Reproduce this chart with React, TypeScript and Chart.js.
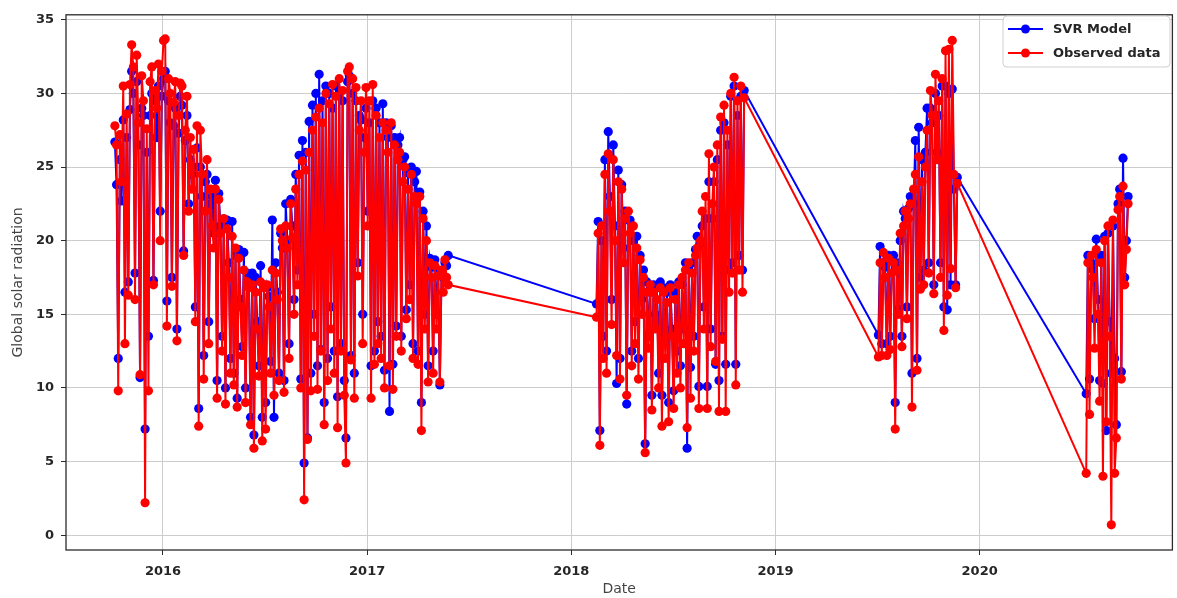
import React, { useEffect, useRef } from "react";
import { Chart, registerables } from "chart.js";

Chart.register(...registerables);

// ---- data ----
const stepDays = 3;

const seg1Start = "2015-10-07";
const seg1Observed = [
  27.8, 26.5, 9.8, 27.2, 24.0, 30.5, 13.0, 28.6, 16.3, 30.6,
  33.3, 31.8, 16.0, 32.6, 28.0, 10.9, 31.2, 29.5, 2.2, 27.6,
  9.8, 30.8, 31.8, 17.0, 30.2, 29.0, 32.0, 20.0, 31.5, 33.6,
  33.7, 14.2, 31.0, 30.0, 16.9, 29.4, 30.8, 13.2, 28.5, 30.7,
  30.5, 19.0, 27.5, 29.8, 22.0, 27.0, 23.5, 26.2, 14.5, 27.8,
  7.4, 27.5, 24.5, 10.6, 22.0, 25.5, 13.0, 23.5, 21.0, 19.5,
  23.5, 9.3, 22.8, 20.5, 12.5, 21.5, 8.9, 20.8, 17.5, 11.0,
  20.3, 10.2, 19.5, 8.7, 18.8, 15.5, 12.2, 18.0, 9.0, 17.2,
  16.8, 7.5, 17.0, 5.9, 16.5, 14.0, 10.8, 17.2, 6.4, 16.8,
  7.2, 17.0, 15.5, 11.0, 18.0, 9.5, 17.8, 16.0, 10.5, 20.8,
  20.0, 9.7, 21.0, 19.5, 12.0, 22.5, 20.2, 15.0, 23.5, 17.0,
  24.5, 10.0, 25.4, 2.4, 24.8, 6.5, 26.0, 9.8, 27.5, 13.5,
  28.4, 9.9, 29.0, 12.5, 28.0, 7.5, 30.0, 10.5, 29.3, 14.0,
  30.6, 11.0, 29.8, 7.3, 31.0, 12.5, 30.2, 9.5, 4.9, 31.5,
  31.8, 11.9, 31.0, 9.3, 30.4, 17.6, 27.5, 29.5, 13.0, 26.0,
  30.4, 21.0, 29.5, 9.3, 30.6, 11.6, 28.5, 13.0, 27.0, 12.0,
  28.0, 10.0, 27.5, 26.0, 11.5, 28.0, 9.9, 26.5, 13.5, 25.5,
  26.0, 12.5, 24.0, 25.0, 14.7, 23.5, 16.0, 24.5, 12.0, 23.0,
  22.5, 11.6, 23.0, 7.1, 21.5, 14.0, 20.0, 10.4, 18.5, 17.5,
  11.0, 18.3, 14.0, 17.6, 10.4, 18.0, 16.5, 18.7, 17.5, 17.0,
];
const seg1Model = [
  26.7, 23.8, 12.0, 25.5, 22.7, 28.2, 16.5, 27.0, 17.2, 28.9,
  31.5, 30.0, 17.8, 30.8, 26.5, 10.7, 29.0, 28.5, 7.2, 26.0,
  13.5, 28.5, 30.0, 17.3, 29.5, 27.0, 30.5, 22.0, 29.8, 31.0,
  31.5, 15.9, 29.5, 28.0, 17.5, 27.8, 29.0, 14.0, 27.3, 29.8,
  29.2, 19.3, 26.8, 28.5, 22.5, 25.5, 24.5, 25.0, 15.5, 26.3,
  8.6, 25.0, 23.0, 12.2, 24.0, 24.5, 14.5, 22.5, 23.0, 20.5,
  24.1, 10.5, 23.2, 21.0, 13.5, 21.0, 10.0, 21.4, 18.5, 12.0,
  21.3, 11.0, 19.0, 9.3, 19.4, 16.0, 12.8, 19.2, 10.0, 17.8,
  17.3, 8.0, 17.8, 6.8, 17.5, 14.5, 11.5, 18.3, 8.0, 17.0,
  9.0, 16.8, 16.2, 11.8, 21.4, 8.0, 18.5, 16.5, 11.0, 20.5,
  19.5, 10.5, 22.5, 20.0, 13.0, 22.8, 21.0, 16.0, 24.5, 18.0,
  25.8, 10.6, 26.8, 4.9, 26.0, 6.6, 28.1, 11.0, 29.2, 15.0,
  30.0, 11.5, 31.3, 12.6, 29.5, 9.0, 30.5, 12.0, 30.0, 15.5,
  29.0, 12.5, 30.5, 9.4, 30.0, 13.0, 29.5, 10.5, 6.6, 30.8,
  31.2, 12.2, 30.0, 11.0, 29.5, 18.5, 28.5, 28.2, 15.0, 27.0,
  29.0, 22.0, 28.0, 11.5, 29.5, 12.5, 29.0, 14.5, 28.0, 13.5,
  29.3, 11.2, 28.0, 27.0, 8.4, 27.8, 11.6, 27.0, 14.2, 26.5,
  27.0, 13.5, 25.5, 25.7, 15.3, 24.6, 17.0, 25.0, 13.0, 24.0,
  24.7, 12.5, 23.3, 9.0, 22.0, 15.0, 21.0, 11.5, 18.8, 18.2,
  12.5, 18.7, 15.0, 18.0, 10.2, 17.8, 17.5, 18.5, 18.3, 19.0,
];

const seg2Start = "2018-02-15";
const seg2Observed = [
  14.8, 20.5, 6.1, 21.0, 12.0, 24.5, 11.0, 25.9, 22.0, 14.3,
  25.5, 20.0, 12.2, 24.0, 10.6, 23.5, 18.5, 21.5, 9.5, 22.0,
  20.5, 11.5, 21.0, 13.0, 19.5, 10.6, 18.7, 15.0, 17.5, 5.6,
  16.5, 12.7, 17.0, 8.5, 16.5, 14.0, 16.0, 10.0, 16.8, 7.4,
  16.5, 12.0, 15.8, 7.7, 16.8, 13.5, 8.6, 16.0, 11.0, 17.0,
  10.0, 17.5, 13.0, 18.0, 7.3, 18.5, 9.3, 17.8, 12.5, 19.0,
  19.5, 8.6, 20.0, 22.0, 14.0, 23.0, 8.6, 25.9, 12.8, 22.5,
  25.0, 11.8, 26.5, 8.4, 28.4, 13.3, 29.2, 8.4, 27.5, 16.5,
  30.0, 17.8, 31.1, 10.2, 29.5, 18.0, 30.5, 16.5, 29.7,
];
const seg2Model = [
  15.7, 21.3, 7.1, 20.0, 13.5, 25.5, 12.5, 27.4, 23.0, 16.0,
  26.5, 21.0, 10.3, 24.8, 12.0, 23.8, 19.5, 22.0, 8.9, 21.4,
  21.4, 12.5, 20.0, 14.5, 20.3, 12.0, 19.0, 16.0, 18.0, 6.2,
  17.2, 13.5, 16.5, 9.5, 17.0, 15.0, 16.8, 11.0, 17.2, 9.5,
  16.8, 13.5, 16.5, 9.0, 17.0, 14.0, 9.8, 16.5, 12.5, 17.2,
  11.5, 17.0, 14.0, 18.5, 5.9, 18.0, 11.4, 18.5, 13.5, 19.4,
  20.3, 10.1, 19.8, 21.0, 15.5, 21.5, 10.1, 24.0, 14.0, 21.5,
  24.0, 11.6, 25.5, 10.5, 27.5, 13.5, 28.0, 11.6, 26.5, 18.0,
  29.8, 18.5, 30.5, 11.6, 28.5, 19.0, 29.8, 18.0, 30.2,
];

const seg3Start = "2019-07-04";
const seg3Observed = [
  12.1, 18.5, 12.2, 19.2, 17.5, 12.2, 18.8, 12.6, 17.8, 18.5,
  7.2, 18.0, 15.0, 20.5, 12.8, 21.0, 22.0, 14.7, 21.5, 22.5,
  8.7, 23.5, 24.5, 11.2, 25.7, 16.7, 24.0, 17.0, 25.0, 27.5,
  17.8, 30.2, 28.5, 16.4, 31.3, 25.5, 29.5, 17.5, 31.0, 13.9,
  32.9, 16.3, 33.0, 18.1, 33.6, 24.5, 16.8, 23.9,
];
const seg3Model = [
  13.6, 19.6, 13.0, 18.5, 18.2, 13.0, 19.0, 13.5, 18.8, 19.0,
  9.0, 18.5, 15.3, 20.0, 13.5, 22.0, 21.5, 15.5, 22.2, 23.0,
  11.0, 22.5, 26.8, 12.0, 27.7, 17.5, 25.5, 18.0, 26.0, 29.0,
  18.5, 29.0, 28.0, 17.0, 30.0, 26.0, 28.5, 18.5, 30.5, 15.5,
  30.5, 15.3, 30.0, 17.0, 30.3, 23.5, 17.0, 24.3,
];

const seg4Start = "2020-07-10";
const seg4Observed = [
  4.2, 18.5, 8.2, 19.0, 17.5, 12.7, 19.4, 15.0, 9.1, 18.5,
  4.0, 20.0, 7.7, 21.0, 13.5, 0.7, 21.4, 4.2, 6.6, 22.1,
  23.0, 10.6, 23.7, 17.0, 19.4, 22.5,
];
const seg4Model = [
  9.6, 19.0, 10.6, 18.5, 18.0, 14.7, 20.1, 16.0, 10.5, 19.0,
  10.3, 20.3, 7.1, 20.5, 14.5, 11.0, 21.0, 12.0, 7.5, 22.5,
  23.5, 11.1, 25.6, 17.5, 20.0, 23.0,
];

const yearTicks = [2016, 2017, 2018, 2019, 2020];
const yTicks = [0, 5, 10, 15, 20, 25, 30, 35];
const seriesLabels = ["SVR Model", "Observed data"];

// ---- helpers ----
function yearFraction(ms: number): number {
  const d = new Date(ms);
  const y = d.getUTCFullYear();
  const s = Date.UTC(y, 0, 1);
  const e = Date.UTC(y + 1, 0, 1);
  return y + (ms - s) / (e - s);
}

function segmentPoints(start: string, values: number[]) {
  const [yy, mm, dd] = start.split("-").map(Number);
  return values.map((v, i) => ({
    x: yearFraction(Date.UTC(yy, mm - 1, dd + i * stepDays)),
    y: v,
  }));
}

const BLUE = "#0000ff";
const RED = "#ff0000";

const framePlugin = {
  id: "frameAndLegend",
  afterDraw(chart: any) {
    const { ctx, chartArea } = chart;
    ctx.save();
    ctx.strokeStyle = "#2b2b2b";
    ctx.lineWidth = 1.3;
    ctx.strokeRect(
      chartArea.left,
      chartArea.top,
      chartArea.right - chartArea.left,
      chartArea.bottom - chartArea.top
    );

    // legend box
    const bx = 1003, by = 16, bw = 167, bh = 51, r = 4;
    ctx.beginPath();
    ctx.moveTo(bx + r, by);
    ctx.lineTo(bx + bw - r, by);
    ctx.quadraticCurveTo(bx + bw, by, bx + bw, by + r);
    ctx.lineTo(bx + bw, by + bh - r);
    ctx.quadraticCurveTo(bx + bw, by + bh, bx + bw - r, by + bh);
    ctx.lineTo(bx + r, by + bh);
    ctx.quadraticCurveTo(bx, by + bh, bx, by + bh - r);
    ctx.lineTo(bx, by + r);
    ctx.quadraticCurveTo(bx, by, bx + r, by);
    ctx.closePath();
    ctx.fillStyle = "rgba(255,255,255,0.85)";
    ctx.fill();
    ctx.strokeStyle = "#cfcfcf";
    ctx.lineWidth = 1;
    ctx.stroke();

    const entries = [
      { label: seriesLabels[0], color: BLUE, y: 29 },
      { label: seriesLabels[1], color: RED, y: 53 },
    ];
    ctx.font = "bold 13px 'DejaVu Sans'";
    ctx.textBaseline = "middle";
    ctx.textAlign = "left";
    for (const e of entries) {
      ctx.strokeStyle = e.color;
      ctx.lineWidth = 2;
      ctx.beginPath();
      ctx.moveTo(1008, e.y);
      ctx.lineTo(1043, e.y);
      ctx.stroke();
      ctx.fillStyle = e.color;
      ctx.beginPath();
      ctx.arc(1025.5, e.y, 4.5, 0, Math.PI * 2);
      ctx.fill();
      ctx.fillStyle = "#262626";
      ctx.fillText(e.label, 1053, e.y + 1);
    }
    ctx.restore();
  },
};

export default function App() {
  const ref = useRef<HTMLCanvasElement | null>(null);

  useEffect(() => {
    if (!ref.current) return;
    const model = [
      ...segmentPoints(seg1Start, seg1Model),
      ...segmentPoints(seg2Start, seg2Model),
      ...segmentPoints(seg3Start, seg3Model),
      ...segmentPoints(seg4Start, seg4Model),
    ];
    const observed = [
      ...segmentPoints(seg1Start, seg1Observed),
      ...segmentPoints(seg2Start, seg2Observed),
      ...segmentPoints(seg3Start, seg3Observed),
      ...segmentPoints(seg4Start, seg4Observed),
    ];

    const tickFont = { family: "'DejaVu Sans'", size: 13, weight: "bold" as const };
    const titleFont = { family: "'DejaVu Sans'", size: 14 };

    const chart = new Chart(ref.current, {
      type: "line",
      data: {
        datasets: [
          {
            label: seriesLabels[0],
            data: model,
            borderColor: BLUE,
            backgroundColor: BLUE,
            borderWidth: 2,
            pointRadius: 4.6,
            pointBorderWidth: 0,
            pointBackgroundColor: BLUE,
            tension: 0,
            order: 2,
          },
          {
            label: seriesLabels[1],
            data: observed,
            borderColor: RED,
            backgroundColor: RED,
            borderWidth: 2,
            pointRadius: 4.6,
            pointBorderWidth: 0,
            pointBackgroundColor: RED,
            tension: 0,
            order: 1,
          },
        ],
      },
      options: {
        responsive: false,
        animation: false,
        events: [],
        layout: { padding: { left: 0, top: 10, right: 4, bottom: 0 } },
        plugins: {
          legend: { display: false },
          tooltip: { enabled: false },
        },
        scales: {
          x: {
            type: "linear",
            min: 2015.525,
            max: 2020.944,
            afterBuildTicks: (s: any) => {
              s.ticks = yearTicks.map((v) => ({ value: v }));
            },
            afterFit: (s: any) => {
              s.height = 48;
            },
            grid: {
              color: "#cccccc",
              lineWidth: 1,
              tickColor: "#2b2b2b",
              tickLength: 5,
              drawTicks: true,
            },
            border: { display: false },
            ticks: {
              font: tickFont,
              color: "#262626",
              padding: 9,
              maxRotation: 0,
              autoSkip: false,
              callback: (v: any) => String(v),
            },
            title: {
              display: true,
              text: "Date",
              font: titleFont,
              color: "#444444",
              padding: { top: 0, bottom: 0 },
            },
          },
          y: {
            type: "linear",
            min: -1.01,
            max: 35.34,
            afterBuildTicks: (s: any) => {
              s.ticks = yTicks.map((v) => ({ value: v }));
            },
            afterFit: (s: any) => {
              s.width = 66;
            },
            grid: {
              color: "#cccccc",
              lineWidth: 1,
              tickColor: "#2b2b2b",
              tickLength: 5,
              drawTicks: true,
            },
            border: { display: false },
            ticks: {
              font: tickFont,
              color: "#262626",
              padding: 7,
              autoSkip: false,
              callback: (v: any) => String(v),
            },
            title: {
              display: true,
              text: "Global solar radiation",
              font: titleFont,
              color: "#444444",
              padding: { top: 10, bottom: 0 },
            },
          },
        },
      },
      plugins: [framePlugin],
    });
    return () => chart.destroy();
  }, []);

  return (
    <div style={{ position: "absolute", left: 0, top: 0, width: 1177, height: 598, background: "#ffffff" }}>
      <canvas ref={ref} width={1177} height={598} style={{ display: "block" }} />
    </div>
  );
}
